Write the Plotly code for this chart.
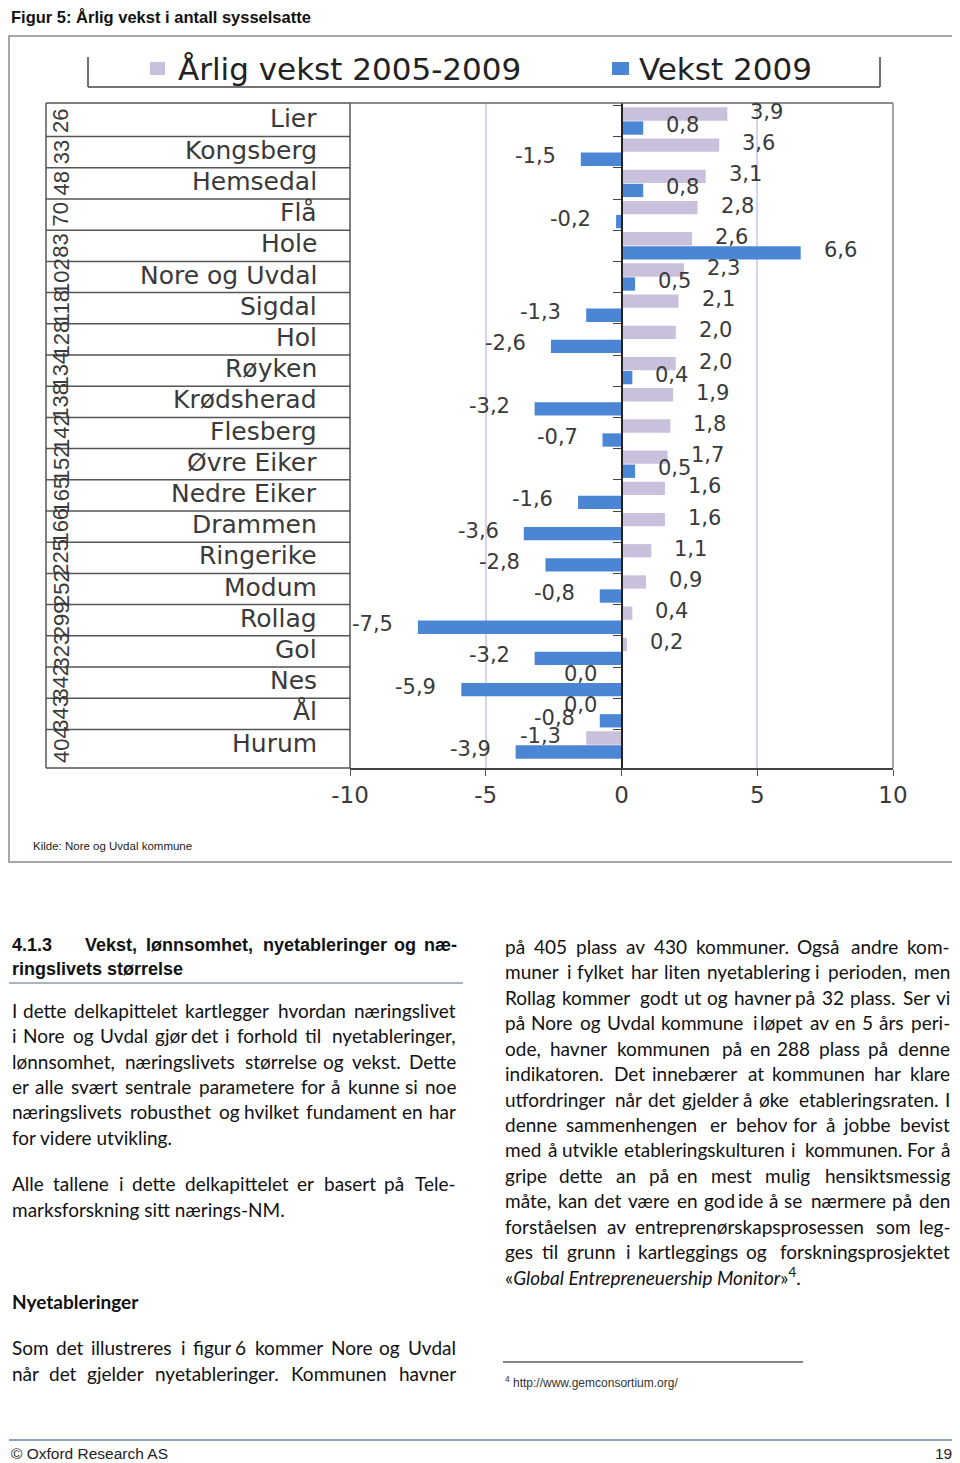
import plotly.graph_objects as go

# ---------------- data ----------------
kommuner = ["Lier", "Kongsberg", "Hemsedal", "Flå", "Hole", "Nore og Uvdal", "Sigdal", "Hol",
            "Røyken", "Krødsherad", "Flesberg", "Øvre Eiker", "Nedre Eiker", "Drammen",
            "Ringerike", "Modum", "Rollag", "Gol", "Nes", "Ål", "Hurum"]
rangering = [26, 33, 48, 70, 83, 102, 118, 128, 134, 138, 142, 152, 165, 166, 225, 252,
             299, 323, 342, 343, 404]
vekst_2005_2009 = [3.9, 3.6, 3.1, 2.8, 2.6, 2.3, 2.1, 2.0, 2.0, 1.9, 1.8, 1.7, 1.6, 1.6,
                   1.1, 0.9, 0.4, 0.2, 0.0, 0.0, -1.3]
vekst_2009 = [0.8, -1.5, 0.8, -0.2, 6.6, 0.5, -1.3, -2.6, 0.4, -3.2, -0.7, 0.5, -1.6, -3.6,
              -2.8, -0.8, -7.5, -3.2, -5.9, -0.8, -3.9]
series_names = ["Årlig vekst 2005-2009", "Vekst 2009"]
x_ticks = [-10, -5, 0, 5, 10]

# page offset of the figure inside the html body (default 8px body margin)
OFF = 8
W, H = 952, 1455
def px(x):
    return (x - OFF) / W
def py(y):
    return 1 - (y - OFF) / H

LILAC = "#c9c0dc"
BLUE = "#4a86d4"
CHART_FONT = "DejaVu Sans"
NARROW = "Liberation Sans Narrow, Arial Narrow, Liberation Sans, sans-serif"
BODY = "Lato, Carlito, Calibri, Open Sans, sans-serif"
BODY_SIZE = 19

PLOT_L, PLOT_R, PLOT_T, PLOT_B = 350, 893, 103, 768

fig = go.Figure()
fig.add_trace(go.Bar(orientation="h", y=kommuner, x=vekst_2005_2009, name=series_names[0],
                     marker=dict(color=LILAC, line=dict(width=0))))
fig.add_trace(go.Bar(orientation="h", y=kommuner, x=vekst_2009, name=series_names[1],
                     marker=dict(color=BLUE, line=dict(width=0))))

def fmt(v):
    return f"{v:.1f}".replace(".", ",")

ann = []
# value labels
for vals, ys in ((vekst_2005_2009, 9), (vekst_2009, -4)):
    for k, v in zip(kommuner, vals):
        pos = v > 0
        ann.append(dict(x=v, y=k, xref="x", yref="y", text=fmt(v), showarrow=False,
                        xanchor="left" if pos else "right", yanchor="middle",
                        xshift=21 if pos else -23,
                        yshift=ys, font=dict(family=CHART_FONT, size=21, color="#3a3a3a")))
# category names and ranks
for k, r in zip(kommuner, rangering):
    ann.append(dict(x=px(319), y=k, xref="paper", yref="y", text=k, showarrow=False,
                    xanchor="right", yanchor="middle", yshift=2,
                    font=dict(family=CHART_FONT, size=25, color="#3a3a3a")))
    ann.append(dict(x=px(61), y=k, xref="paper", yref="y", text=str(r), showarrow=False,
                    xanchor="center", yanchor="middle", textangle=-90,
                    font=dict(family=NARROW, size=22, color="#3a3a3a")))

# legend (drawn)
for xx, s in ((176, series_names[0]), (637, series_names[1])):
    ann.append(dict(x=px(xx), y=py(69), xref="paper", yref="paper", text=s,
                    showarrow=False, xanchor="left", yanchor="middle",
                    font=dict(family=CHART_FONT, size=31, color="#222")))

def text(x, y, s, size=BODY_SIZE, family=BODY, color="#111", anchor="left", bold=False):
    if bold:
        s = f"<b>{s}</b>"
    ann.append(dict(x=px(x), y=py(y), xref="paper", yref="paper", text=s, showarrow=False,
                    xanchor=anchor, yanchor="middle", font=dict(family=family, size=size, color=color)))

# approximate advance widths (em) – only used to spread the words of justified lines
LATO = dict(a=.50, b=.56, c=.47, d=.56, e=.53, f=.33, g=.50, h=.56, i=.24, j=.24, k=.51, l=.24,
            m=.84, n=.56, o=.56, p=.55, q=.56, r=.37, s=.43, t=.35, u=.56, v=.51, w=.77, x=.50,
            y=.51, z=.45, æ=.82, ø=.56, å=.50, I=.27, D=.71, S=.52, R=.60, N=.74, U=.70, O=.77,
            G=.70, A=.67, M=.89, T=.57, F=.53, K=.64, E=.55)
LATO.update({",": .22, ".": .22, "-": .35, "«": .45, "»": .45})
ARIALB = dict(a=.556, b=.611, c=.556, d=.611, e=.556, f=.333, g=.611, h=.611, i=.278, j=.278,
              k=.556, l=.278, m=.889, n=.611, o=.611, p=.611, r=.389, s=.556, t=.333, u=.611,
              v=.556, w=.778, x=.556, y=.556, z=.5, ø=.611, æ=.889, V=.667)
ARIALB.update({",": .278, ".": .278, "-": .333})

def est_width(word, table):
    return 1.03 * sum(table.get(c, 0.58 if c.isdigit() else 0.55) for c in word)

def justified(x0, x1, y, s, size=BODY_SIZE, family=BODY, bold=False, table=LATO):
    words = s.split()
    widths = [est_width(wd, table) * size for wd in words]
    n = len(words)
    gap = (x1 - x0 - sum(widths)) / (n - 1)
    gap = max(gap, 0.22 * size)
    half = (n + 1) // 2
    cur = x0
    for i in range(half):
        text(cur, y, words[i], size, family, anchor="left", bold=bold)
        cur += widths[i] + gap
    cur = x1
    for i in range(n - 1, half - 1, -1):
        text(cur, y, words[i], size, family, anchor="right", bold=bold)
        cur -= widths[i] + gap

text(9, 17, "Figur 5: Årlig vekst i antall sysselsatte", size=16.5, family=NARROW, bold=True)
text(31, 846, "Kilde: Nore og Uvdal kommune", size=11.5, family=NARROW, color="#222")

text(10, 945, "4.1.3", size=18, family=NARROW, bold=True)
justified(83, 459, 945, "Vekst, lønnsomhet, nyetableringer og næ-", size=18, family=NARROW,
          bold=True, table=ARIALB)
text(10, 969, "ringslivets størrelse", size=18, family=NARROW, bold=True)

LX0, LX1, RX0, RX1 = 10, 458, 503, 952
left_just = [
    (1010, "I dette delkapittelet kartlegger hvordan næringslivet"),
    (1035, "i Nore og Uvdal gjør det i forhold til nyetableringer,"),
    (1061, "lønnsomhet, næringslivets størrelse og vekst. Dette"),
    (1086, "er alle svært sentrale parametere for å kunne si noe"),
    (1111, "næringslivets robusthet og hvilket fundament en har"),
    (1183, "Alle tallene i dette delkapittelet er basert på Tele-"),
    (1347, "Som det illustreres i figur 6 kommer Nore og Uvdal"),
    (1373, "når det gjelder nyetableringer. Kommunen havner"),
]
for y, s in left_just:
    justified(LX0, LX1, y, s)
text(LX0, 1137, "for videre utvikling.")
text(LX0, 1209, "marksforskning sitt nærings-NM.")
text(LX0, 1301, "Nyetableringer", bold=True)

right_just = [
    (946, "på 405 plass av 430 kommuner.  Også andre kom-"),
    (971, "muner i fylket har liten nyetablering i perioden, men"),
    (997, "Rollag kommer godt ut og havner på 32 plass. Ser vi"),
    (1022, "på Nore og Uvdal kommune i løpet av en 5 års peri-"),
    (1048, "ode, havner kommunen på en 288 plass på denne"),
    (1073, "indikatoren. Det innebærer at kommunen har klare"),
    (1099, "utfordringer når det gjelder å øke etableringsraten. I"),
    (1124, "denne sammenhengen er behov for å jobbe bevist"),
    (1149, "med å utvikle etableringskulturen i kommunen. For å"),
    (1175, "gripe dette an på en mest mulig hensiktsmessig"),
    (1200, "måte, kan det være en god ide å se nærmere på den"),
    (1226, "forståelsen av entreprenørskapsprosessen som leg-"),
    (1251, "ges til grunn i kartleggings og forskningsprosjektet"),
]
for y, s in right_just:
    justified(RX0, RX1, y, s)
text(RX0, 1276, "«<i>Global Entrepreneuership Monitor</i>»<sup>4</sup>.")
text(503, 1382, "<sup>4</sup> http://www.gemconsortium.org/", size=12, family=NARROW, color="#333")

text(9, 1453, "© Oxford Research AS", size=15.5, family=NARROW, color="#222")
text(954, 1453, "19", size=15.5, family=NARROW, color="#222", anchor="right")

# ---------------- shapes ----------------
shapes = []
def line(x0, y0, x1, y1, color="#555", width=1.5):
    shapes.append(dict(type="line", xref="paper", yref="paper", x0=px(x0), y0=py(y0),
                       x1=px(x1), y1=py(y1), line=dict(color=color, width=width)))

# outer chart frame
shapes.append(dict(type="rect", xref="paper", yref="paper", x0=px(9), y0=py(862), x1=px(953),
                   y1=py(36), line=dict(color="#8a8a8a", width=1.5)))
# legend bracket
line(88, 57, 88, 87, "#444")
line(88, 87, 880, 87, "#444")
line(880, 57, 880, 87, "#444")
shapes.append(dict(type="rect", xref="paper", yref="paper", x0=px(150), y0=py(75), x1=px(165),
                   y1=py(62), fillcolor=LILAC, line=dict(width=0)))
shapes.append(dict(type="rect", xref="paper", yref="paper", x0=px(612), y0=py(75), x1=px(629),
                   y1=py(62), fillcolor=BLUE, line=dict(width=0)))
# plot frame
line(PLOT_L, PLOT_T, PLOT_R, PLOT_T, "#666")
line(PLOT_R, PLOT_T, PLOT_R, PLOT_B, "#888")
line(PLOT_L, PLOT_T, PLOT_L, PLOT_B, "#555")
# table of names
line(46, PLOT_T, 46, PLOT_B, "#555")
line(46, PLOT_T, PLOT_L, PLOT_T, "#555")
line(46, PLOT_B, PLOT_L, PLOT_B, "#555")
for i in range(len(kommuner) - 1):
    shapes.append(dict(type="line", xref="paper", yref="y", x0=px(46), x1=px(PLOT_L),
                       y0=i + 0.5, y1=i + 0.5, line=dict(color="#555", width=1.5)))
# heading rule, footnote rule, footer rule
line(9, 983, 463, 983, "#5a6a80", 1.2)
line(503, 1362, 803, 1362, "#111", 1.2)
line(9, 1440, 955, 1440, "#6f7f98", 1.5)

fig.update_layout(
    width=W, height=H, margin=dict(l=0, r=0, t=0, b=0, pad=0, autoexpand=False),
    paper_bgcolor="white", plot_bgcolor="white",
    barmode="group", bargap=0.1, bargroupgap=0.05, showlegend=False,
    annotations=ann, shapes=shapes,
    xaxis=dict(domain=[px(PLOT_L), px(PLOT_R)], range=[-10, 10], tickvals=x_ticks,
               ticktext=[str(t) for t in x_ticks], ticks="outside", ticklen=6, tickcolor="#555",
               showline=True, linecolor="#444", linewidth=1.5, showgrid=True,
               gridcolor="#d4d4f0", gridwidth=1.5, zeroline=True, zerolinecolor="#222",
               zerolinewidth=2, tickfont=dict(family=CHART_FONT, size=23, color="#3a3a3a"),
               anchor="y", fixedrange=True, automargin=False),
    yaxis=dict(domain=[py(PLOT_B), py(PLOT_T)], type="category", categoryorder="array",
               categoryarray=kommuner, autorange="reversed", anchor="free",
               position=px(622), showline=True, linecolor="#222", linewidth=2,
               ticks="outside", tickson="boundaries", ticklen=8, tickcolor="#444",
               showticklabels=False, showgrid=False, zeroline=False, fixedrange=True,
               automargin=False),
)

fig.write_html("out.html")
